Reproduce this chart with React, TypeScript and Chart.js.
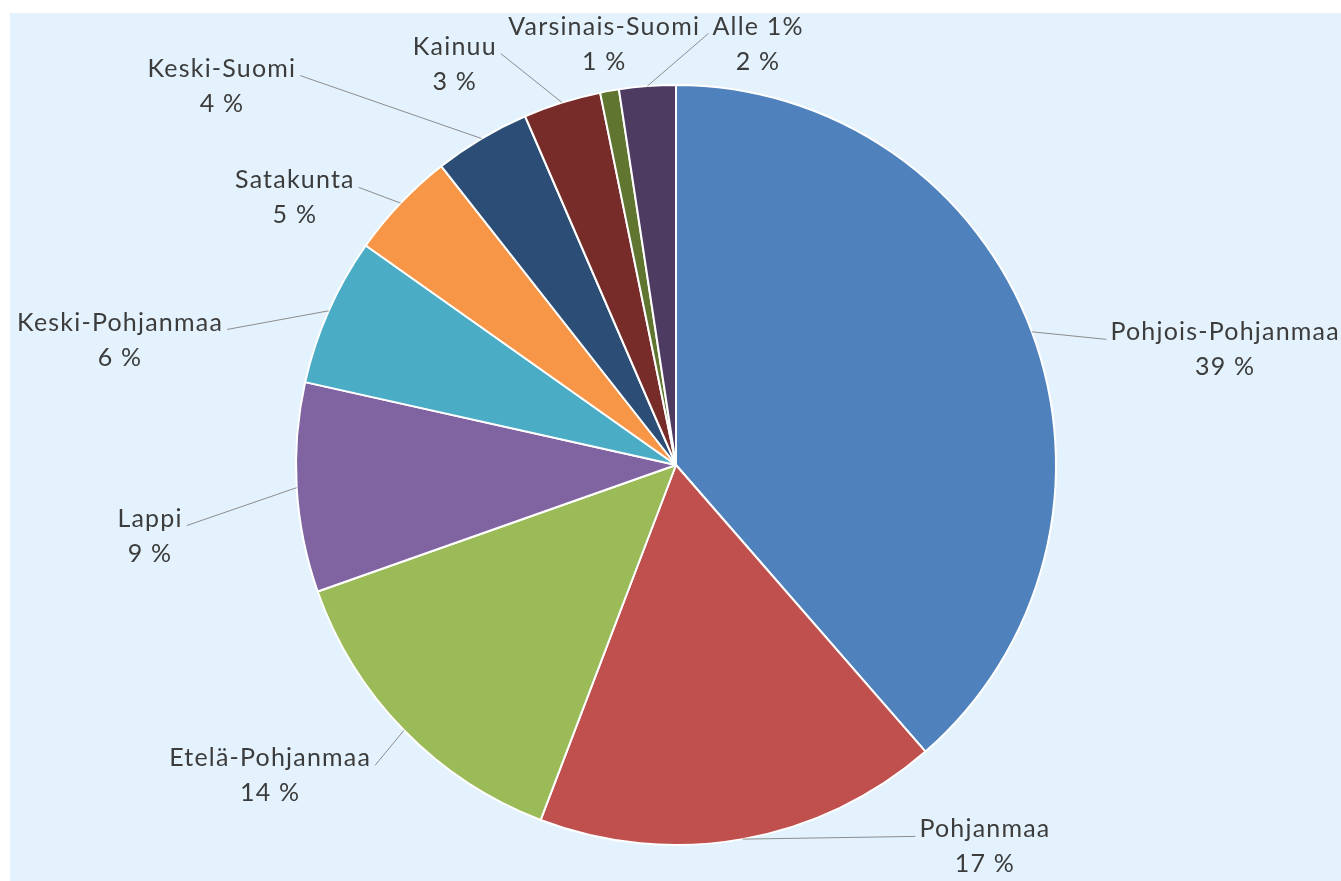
import React, { useEffect, useRef } from "react";
import { Chart, registerables } from "chart.js";

Chart.register(...registerables);

const regions = [
  "Pohjois-Pohjanmaa",
  "Pohjanmaa",
  "Etelä-Pohjanmaa",
  "Lappi",
  "Keski-Pohjanmaa",
  "Satakunta",
  "Keski-Suomi",
  "Kainuu",
  "Varsinais-Suomi",
  "Alle 1%",
];

const shares = [38.6, 17.2, 13.8, 8.9, 6.3, 4.6, 4.1, 3.3, 0.8, 2.4];

const sliceColors = [
  "#4f81bd",
  "#c0504d",
  "#9bbb59",
  "#8064a2",
  "#4bacc6",
  "#f79646",
  "#2c4d75",
  "#772c2a",
  "#5f7530",
  "#4d3b62",
];

// label block centres, in units of the pie radius, relative to the pie centre
const labelLayout = [
  [1.445, -0.303],
  [0.813, 1.005],
  [-1.068, 0.818],
  [-1.384, 0.187],
  [-1.463, -0.329],
  [-1.003, -0.703],
  [-1.195, -0.997],
  [-0.582, -1.055],
  [-0.189, -1.108],
  [0.216, -1.108],
];

const FONT = "25px Lato, 'Open Sans', sans-serif";
const LINE_GAP = 35;

const labelPlugin = {
  id: "outsideLabels",
  afterDatasetsDraw(chart: any) {
    const ctx = chart.ctx;
    const meta = chart.getDatasetMeta(0);
    const data = chart.data.datasets[0].data as number[];
    const total = data.reduce((a, b) => a + b, 0);
    ctx.save();
    ctx.font = FONT;
    try {
      (ctx as any).letterSpacing = "1.2px";
    } catch (e) {}
    ctx.textAlign = "center";
    ctx.textBaseline = "middle";
    meta.data.forEach((arc: any, i: number) => {
      const { x, y, startAngle, endAngle, outerRadius } = arc.getProps(
        ["x", "y", "startAngle", "endAngle", "outerRadius"],
        true
      );
      const mid = (startAngle + endAngle) / 2;
      const px = x + Math.cos(mid) * outerRadius;
      const py = y + Math.sin(mid) * outerRadius;
      const [lx, ly] = labelLayout[i];
      const cx = x + lx * outerRadius;
      const cy = y + ly * outerRadius;
      const name = chart.data.labels[i] as string;
      const pct = Math.round((data[i] / total) * 100) + " %";
      const w1 = ctx.measureText(name).width;
      const l1y = cy - LINE_GAP / 2;
      const inside = px >= cx - w1 / 2 && px <= cx + w1 / 2 && py > cy;
      if (!inside) {
        const ex = cx > px ? cx - w1 / 2 - 4 : cx + w1 / 2 + 4;
        const ey = l1y + 7;
        ctx.strokeStyle = "#8c8c8c";
        ctx.lineWidth = 1;
        ctx.beginPath();
        ctx.moveTo(px, py);
        ctx.lineTo(ex, ey);
        ctx.stroke();
      }
      ctx.fillStyle = "#3c3c3c";
      ctx.fillText(name, cx, l1y);
      ctx.fillText(pct, cx, cy + LINE_GAP / 2);
    });
    ctx.restore();
  },
};

export default function App() {
  const ref = useRef<HTMLCanvasElement>(null);
  useEffect(() => {
    document.body.style.margin = "0";
    const chart = new Chart(ref.current!, {
      type: "pie",
      data: {
        labels: regions,
        datasets: [
          {
            data: shares,
            backgroundColor: sliceColors,
            borderColor: "#ffffff",
            borderWidth: 2,
          },
        ],
      },
      options: {
        animation: false,
        responsive: false,
        radius: 380,
        layout: { padding: { top: 40, bottom: 4, left: 1, right: 0 } },
        plugins: {
          legend: { display: false },
          tooltip: { enabled: false },
        },
      },
      plugins: [labelPlugin],
    });
    return () => chart.destroy();
  }, []);
  return (
    <div style={{ position: "relative", width: 1341, height: 881, background: "#ffffff", overflow: "hidden" }}>
      <div style={{ position: "absolute", left: 10, top: 13, width: 1331, height: 868, background: "#e3f2fc" }}>
        <canvas ref={ref} width={1331} height={868} style={{ display: "block" }} />
      </div>
    </div>
  );
}
